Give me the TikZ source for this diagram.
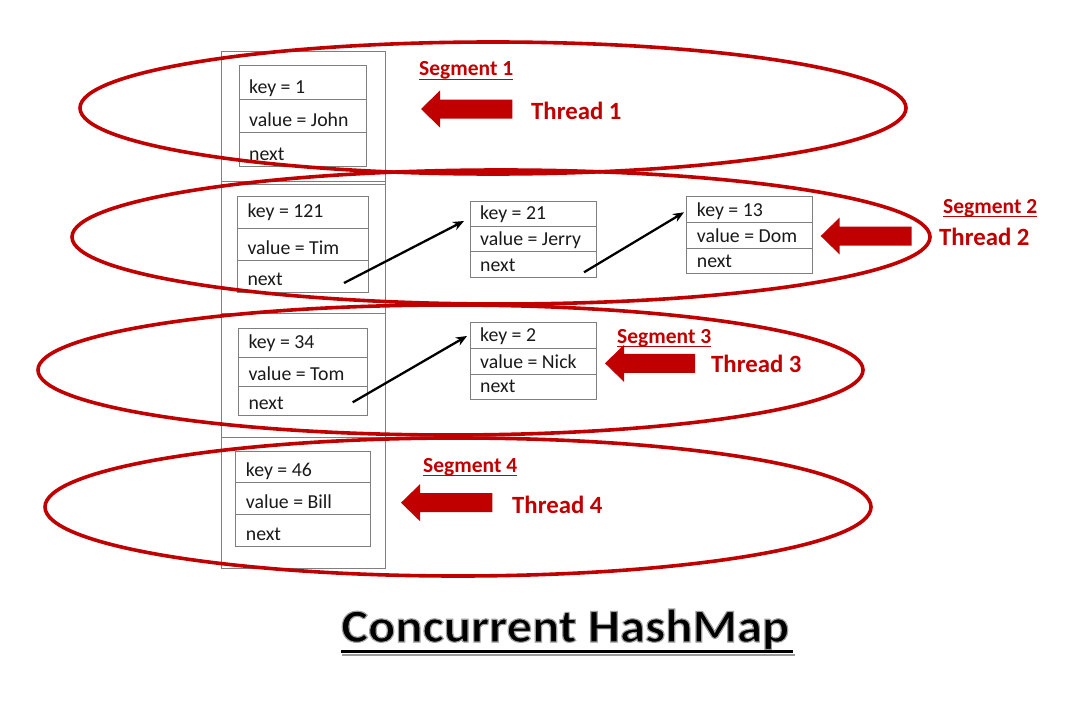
\documentclass[tikz,border=0pt]{standalone}
\usepackage{fontspec}
\setmainfont{Carlito}
\usetikzlibrary{arrows.meta,fit}
\definecolor{segred}{HTML}{C00000}
\definecolor{boxgray}{HTML}{7F7F7F}
\definecolor{txtgray}{HTML}{1A1A1A}
\tikzset{
  segell/.style={draw=segred, line width=3.6pt},
  recbox/.style={draw=boxgray, line width=1pt, inner sep=0pt},
  recline/.style={draw=boxgray, line width=1pt},
  colbox/.style={draw=boxgray, line width=0.9pt},
  celltext/.style={font=\fontsize{19.8}{20}\selectfont, anchor=base west, inner sep=0pt, text=txtgray},
  seglabel/.style={font=\fontsize{21.5}{22}\selectfont\bfseries, text=segred, anchor=base west, inner sep=0pt},
  threadlabel/.style={font=\fontsize{24.8}{26}\selectfont\bfseries, text=segred, anchor=base west, inner sep=0pt},
  segline/.style={draw=segred, line width=1.3pt},
  nextarrow/.style={-{Stealth[length=11pt,width=9pt]}, line width=2.3pt, draw=black},
  blockarrow/.style={fill=segred, draw=none},
  titletext/.style={font=\fontsize{47}{50}\selectfont\bfseries, anchor=base west, inner sep=0pt, xscale=1.08, transform shape},
}
\def\kb{6}
\newcommand\recordbox[9]{%
  \node[recbox, fit={(#2,#4)(#3,#7)}] (#1) {};
  \draw[recline] (#2,#5) -- (#3,#5);
  \draw[recline] (#2,#6) -- (#3,#6);
  \node[celltext] (#1k) at ({#2+10},{#5-\kb}) {#8};
  \node[celltext] (#1v) at ({#2+10},{#6-6}) {#9};
  \node[celltext] (#1n) at ({#2+10},{#7-6.3}) {next};
}
\newcommand\threadarrow[3]{%
  \fill[blockarrow] (#1,#2) -- ({#1+19},{#2-18.5}) -- ({#1+19},{#2-9.5}) -- (#3,{#2-9.5})
    -- (#3,{#2+9.5}) -- ({#1+19},{#2+9.5}) -- ({#1+19},{#2+18.5}) -- cycle;
}
\newcommand\haloed[1]{\special{pdf:literal 2 Tr 0.62 G 1.1 w}#1\special{pdf:literal 0 Tr 0 G 1 w}}
\begin{document}
\begin{tikzpicture}[x=1pt,y=-1pt]
\useasboundingbox[fill=white] (0,0) rectangle (1082,725);

% column of buckets
\draw[colbox] (221,51) rectangle (385,568);
\draw[colbox] (221,181.5) -- (385,181.5);
\draw[colbox] (221,184) -- (385,184);
\draw[colbox] (221,313) -- (385,313);
\draw[colbox] (221,437) -- (385,437);

% records
\def\kb{6.4}
\recordbox{john}{239}{366.5}{65.7}{99.7}{132.3}{166.3}{key = 1}{value = John}
\def\kb{11}
\recordbox{tim}{237.3}{368.3}{196.7}{228.3}{260}{292}{key = 121}{value = Tim}
\def\kb{6.3}
\recordbox{jerry}{470}{596.7}{201}{226}{251.7}{277.3}{key = 21}{value = Jerry}
\recordbox{dom}{686.7}{812.3}{196.7}{222.3}{248.3}{273.3}{key = 13}{value = Dom}
\def\kb{9}
\recordbox{tom}{238.3}{367.3}{328}{357.3}{386.3}{415.7}{key = 34}{value = Tom}
\def\kb{7}
\recordbox{nick}{470}{596.7}{322.7}{348.7}{374}{399}{key = 2}{value = Nick}
\def\kb{6}
\recordbox{bill}{235.7}{370}{451}{482.7}{514.3}{546.7}{key = 46}{value = Bill}

% next pointers
\coordinate (p1s) at (344,283);   \coordinate (p1e) at (464,221);
\coordinate (p2s) at (584,272.3); \coordinate (p2e) at (684,212.3);
\coordinate (p3s) at (352.7,402.3); \coordinate (p3e) at (467,336);
\draw[nextarrow] (p1s) -- (p1e);
\draw[nextarrow] (p2s) -- (p2e);
\draw[nextarrow] (p3s) -- (p3e);

% segments
\draw[segell] (493,108) ellipse [x radius=413pt, y radius=66pt];
\draw[segell] (501,237) ellipse [x radius=429pt, y radius=67pt];
\draw[segell] (450.5,370) ellipse [x radius=412.5pt, y radius=65pt];
\draw[segell] (458,507) ellipse [x radius=413pt, y radius=69pt];

% thread arrows
\threadarrow{421}{109}{512.3}
\threadarrow{820.7}{236}{911.7}
\threadarrow{605}{363.3}{695}
\threadarrow{401}{502.7}{492.3}

% labels
\node[seglabel] (seg1) at (419,76) {Segment 1};
\node[seglabel] (seg2) at (943,213.3) {Segment 2};
\node[seglabel] (seg3) at (617,343.3) {Segment 3};
\node[seglabel] (seg4) at (423,472.3) {Segment 4};
\foreach \s in {seg1,seg2,seg3,seg4}{
  \draw[segline] ([yshift=-3.5pt]\s.base west) -- ([yshift=-3.5pt]\s.base east);
}
\node[threadlabel] (th1) at (531,119) {Thread 1};
\node[threadlabel] (th2) at (939,245) {Thread 2};
\node[threadlabel] (th3) at (711,372.7) {Thread 3};
\node[threadlabel] (th4) at (512,513.3) {Thread 4};

% title
\node[titletext, text=black] (title) at (341,642) {\haloed{Concurrent HashMap}};
\draw[draw=black!40, line width=2pt] (342,654.5) -- (795,654.5);
\draw[draw=black, line width=2.2pt] (341,651.5) -- (793,651.5);
\end{tikzpicture}
\end{document}
